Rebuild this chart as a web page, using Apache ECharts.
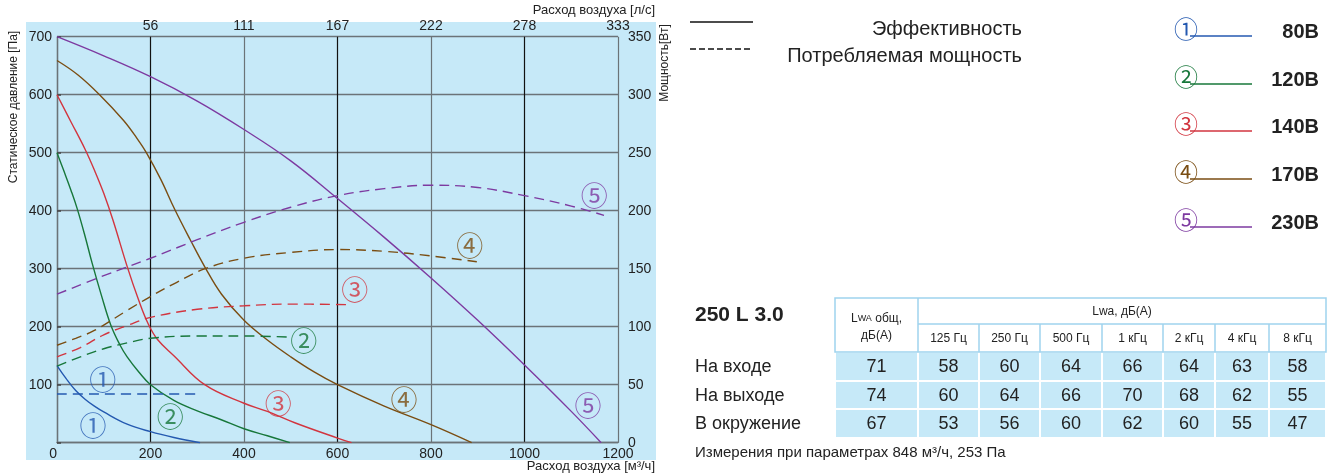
<!DOCTYPE html>
<html>
<head>
<meta charset="utf-8">
<script src="https://cdn.jsdelivr.net/npm/echarts@6/dist/echarts.min.js"></script>
<style>
html,body{margin:0;padding:0;background:#fff;}
#c{width:1335px;height:476px;}
</style>
</head>
<body>
<div id="c"></div>
<script>
// ---------- DATA ----------
const voltages = ['80В','120В','140В','170В','230В'];
const circled = ['①','②','③','④','⑤'];
const colors = ['#2459b0','#17773a','#d2353f','#7a4d12','#7d3aa0'];

// static pressure [Pa] vs air flow [m3/h]
const pres80  = [[0,133],[20,110],[40,90],[60,75],[80,63],[100,53],[150,32],[200,19],[250,9],[306,0]];
const pres120 = [[0,500],[14,470],[30,435],[43,404],[60,356],[75,310],[95,254],[115,203],[135,168],[150,148],[175,122],[200,100],[250,73],[300,55],[350,40],[400,24],[450,12],[498,0]];
const pres140 = [[0,600],[30,553],[60,506],[80,470],[100,430],[120,383],[150,304],[175,245],[195,205],[215,178],[250,150],[316,100],[400,68],[450,54],[510,34],[600,8],[630,0]];
const pres170 = [[0,659],[45,634],[91,600],[142,556],[170,526],[192,499],[222,454],[252,402],[285,350],[317,302],[352,256],[400,211],[450,177],[500,148],[550,122],[600,100],[700,63],[800,31],[887,0]];
const pres230 = [[0,700],[100,667],[200,631],[300,589],[400,540],[500,486],[600,421],[700,354],[800,284],[900,211],[1000,134],[1100,54],[1164,0]];

// power consumption [W] vs air flow [m3/h]
const pow80  = [[0,42],[300,42]];
const pow120 = [[0,66],[50,74],[100,81],[150,86],[200,90],[300,92],[400,92],[500,91]];
const pow140 = [[0,74],[50,82],[100,93],[150,101],[200,108],[300,115],[400,118],[500,119.5],[630,119]];
const pow170 = [[0,84],[40,90],[81,97],[150,114],[200,126],[250,137],[317,150],[400,159],[500,164],[600,166.5],[700,165],[800,161],[898,156]];
const pow230 = [[0,128],[100,144],[200,159],[300,175],[400,190],[500,203],[600,213],[700,219],[800,222],[900,220],[1000,213],[1100,204],[1170,196]];

// curve markers [flow, pressure, curve index]
const curveLabels = [[98,108,0],[77,29,0],[242,44,1],[528,175,1],[473,67,2],[637,263,2],[742,74,3],[883,340,3],[1136,63,4],[1149,425,4]];

// noise table
const modelName = '250 L 3.0';
const freqLabels = ['125 Гц','250 Гц','500 Гц','1 кГц','2 кГц','4 кГц','8 кГц'];
const rowLabels = ['На входе','На выходе','В окружение'];
const totalVals = [71,74,67];
const bandVals = [[58,60,64,66,64,63,58],[60,64,66,70,68,62,55],[53,56,60,62,60,55,47]];
const footnote = 'Измерения при параметрах 848 м³/ч, 253 Па';

// ---------- CHART ----------
const FF = '"Liberation Sans", Arial, sans-serif';
const CJK = '"Noto Sans CJK JP", "DejaVu Sans", sans-serif';
const chart = echarts.init(document.getElementById('c'), null, {renderer:'canvas'});

const presSets = [pres80,pres120,pres140,pres170,pres230];
const powSets = [pow80,pow120,pow140,pow170,pow230];
const series = [];
presSets.forEach((d,i)=>{
  series.push({type:'line', name:voltages[i], data:d, xAxisIndex:0, yAxisIndex:0, smooth:0.4,
    showSymbol:false, silent:true, lineStyle:{color:colors[i], width:1.4}, z:3});
});
powSets.forEach((d,i)=>{
  series.push({type:'line', name:voltages[i]+' P', data:d, xAxisIndex:0, yAxisIndex:1, smooth:0.4,
    showSymbol:false, silent:true, lineStyle:{color:colors[i], width:1.4, type:[10,6]}, z:3});
});
series.push({type:'scatter', xAxisIndex:0, yAxisIndex:0, symbolSize:0, silent:true, z:4,
  data: curveLabels.map(l=>({value:[l[0],l[1]], label:{color:colors[l[2]], formatter:circled[l[2]]}})),
  label:{show:true, position:'inside', fontFamily:CJK, fontSize:27}
});

// graphic elements
const G = [];
G.push({type:'rect', z:-100, shape:{x:26,y:22,width:630,height:438}, style:{fill:'#c6e9f8'}});
function txt(t,x,y,size,opt){
  opt = opt||{};
  return {type:'text', x:x, y:y, rotation:opt.rot||0, z:10, style:{text:t, x:0, y:0, font:(opt.bold?'bold ':'')+size+'px '+(opt.ff||FF),
    fill:opt.color||'#222', textAlign:opt.align||'left', textVerticalAlign:'middle', align:opt.align||'left', verticalAlign:'middle', rich:opt.rich}};
}
function line(x1,y1,x2,y2,color,w,dash){
  return {type:'line', z:10, shape:{x1:x1,y1:y1,x2:x2,y2:y2}, style:{stroke:color, lineWidth:w, lineDash:dash||null}};
}
// axis titles
G.push(txt('Статическое давление [Па]', 14, 107, 12, {rot:Math.PI/2, align:'center'}));
G.push(txt('Мощность[Вт]', 665, 63, 12, {rot:Math.PI/2, align:'center'}));
G.push(txt('Расход воздуха [л/с]', 655, 10, 13, {align:'right'}));
G.push(txt('Расход воздуха [м³/ч]', 655, 466, 13, {align:'right'}));

// line-type legend
G.push(line(690,22,753,22,'#111',1.5));
G.push(line(690,49,753,49,'#111',1.5,[6,3]));
G.push(txt('Эффективность', 1022, 29, 20, {align:'right'}));
G.push(txt('Потребляемая мощность', 1022, 56, 20, {align:'right'}));

// voltage legend
const legY = [36,84,131,179,227];
voltages.forEach((v,i)=>{
  G.push(line(1190,legY[i],1252,legY[i],colors[i],1.4));
  G.push(txt(circled[i], 1186, legY[i]-7, 24, {align:'center', color:colors[i], ff:CJK}));
  G.push(txt(v, 1319, legY[i]-4, 20, {align:'right', bold:true}));
});

// table
const colX = [835,918,979,1040,1102,1163,1215,1269,1326];
const rowY = [298,324,352,381,409,438];
const hdrBorder = '#9fd3ee';
G.push({type:'rect', z:5, shape:{x:colX[0],y:rowY[0],width:colX[8]-colX[0],height:rowY[2]-rowY[0]}, style:{fill:'#fff', stroke:hdrBorder, lineWidth:1.5}});
G.push(line(colX[1],rowY[0],colX[1],rowY[2],hdrBorder,1.5));
G.push(line(colX[1],rowY[1],colX[8],rowY[1],hdrBorder,1.5));
for(let c=2;c<8;c++) G.push(line(colX[c],rowY[1],colX[c],rowY[2],hdrBorder,1.5));
for(let r=0;r<3;r++){
  for(let c=0;c<8;c++){
    G.push({type:'rect', z:5, shape:{x:colX[c]+1,y:rowY[r+2]+1,width:colX[c+1]-colX[c]-2,height:rowY[r+3]-rowY[r+2]-2}, style:{fill:'#c6e9f8'}});
  }
}
G.push(txt('{a|L}{b|WA}{a| общ,}', (colX[0]+colX[1])/2, 319, 12, {align:'center', rich:{a:{fontSize:12,fontFamily:FF,fill:'#222'},b:{fontSize:9,fontFamily:FF,fill:'#222'}}}));
G.push(txt('дБ(A)', (colX[0]+colX[1])/2, 336, 12, {align:'center'}));
G.push(txt('Lwa, дБ(A)', (colX[1]+colX[8])/2, 312, 12, {align:'center'}));
freqLabels.forEach((f,i)=>G.push(txt(f,(colX[i+1]+colX[i+2])/2, 339, 12, {align:'center'})));
const rowMid = [367,396,424];
rowLabels.forEach((r,i)=>{
  G.push(txt(r, 695, rowMid[i], 18));
  G.push(txt(String(totalVals[i]), (colX[0]+colX[1])/2, rowMid[i], 18, {align:'center'}));
  bandVals[i].forEach((v,j)=>G.push(txt(String(v),(colX[j+1]+colX[j+2])/2, rowMid[i], 18, {align:'center'})));
});
G.push(txt(modelName, 695, 315, 21, {bold:true}));
G.push(txt(footnote, 695, 453, 15));

const option = {
  animation:false,
  textStyle:{fontFamily:FF},
  grid:{left:57, right:717, top:36.7, bottom:33.3, containLabel:false},
  xAxis:[
    {type:'value', position:'bottom', min:0, max:1200, interval:200,
      axisLine:{show:true, lineStyle:{color:'#6b7378', width:1.4}}, axisTick:{show:false},
      axisLabel:{color:'#222', fontSize:14, margin:4, alignMinLabel:'right', formatter:v=>String(v)},
      splitLine:{show:true, lineStyle:{color:['#6b7378','#111'], width:1.2}}},
    {type:'value', position:'top', min:0, max:1200, interval:200,
      axisLine:{show:false}, axisTick:{show:false}, splitLine:{show:false},
      axisLabel:{color:'#222', fontSize:14, margin:4, formatter:v=>v===0?'':String(Math.round(v/3.6))}}
  ],
  yAxis:[
    {type:'value', position:'left', min:0, max:700, interval:100,
      axisLine:{show:false}, axisTick:{show:false},
      axisLabel:{color:'#222', fontSize:14, margin:5, showMinLabel:false, formatter:v=>String(v)},
      splitLine:{show:true, lineStyle:{color:'#6b7378', width:1.4}}},
    {type:'value', position:'right', min:0, max:350, interval:50,
      axisLine:{show:true, lineStyle:{color:'#6b7378', width:1.4}},
      axisTick:{show:true, length:4, lineStyle:{color:'#444', width:1.5}},
      axisLabel:{color:'#222', fontSize:14, margin:10, formatter:v=>String(v)},
      splitLine:{show:false}}
  ],
  graphic:G,
  series:series
};
chart.setOption(option);
</script>
</body>
</html>
